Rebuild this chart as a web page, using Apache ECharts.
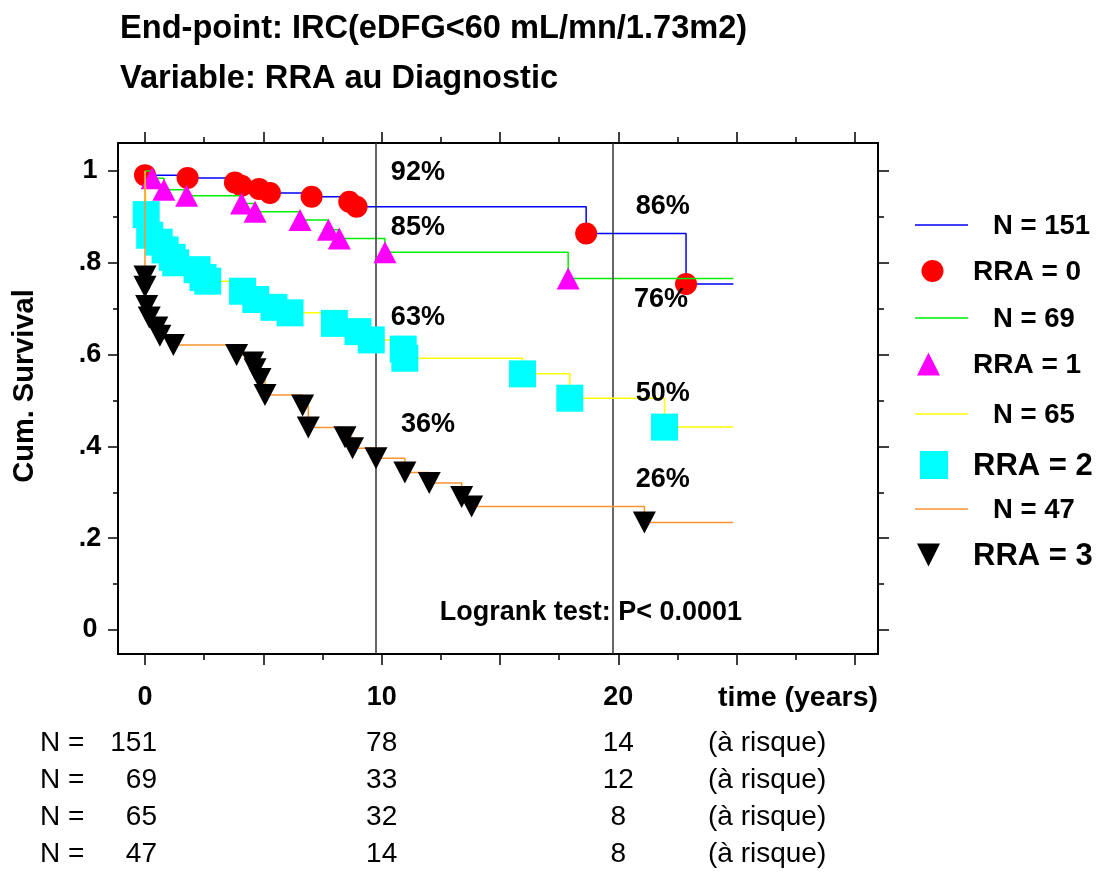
<!DOCTYPE html>
<html><head><meta charset="utf-8">
<script src="https://cdn.jsdelivr.net/npm/echarts@6/dist/echarts.min.js"></script>
<style>html,body{margin:0;padding:0;background:#fff}#c{width:1104px;height:873px}</style>
</head><body><div id="c"></div><script>
// ---- data ----
const timesRRA0 = [0, 1.8, 3.8, 4.08, 4.82, 5.28, 7.04, 8.63, 8.94, 18.64, 22.86];
const survRRA0  = [0.991, 0.985, 0.975, 0.968, 0.961, 0.952, 0.944, 0.933, 0.922, 0.864, 0.754];
const timesRRA1 = [0.3, 0.8, 1.76, 4.08, 4.65, 6.55, 7.75, 8.21, 10.14, 17.88];
const survRRA1  = [0.984, 0.959, 0.946, 0.929, 0.911, 0.893, 0.872, 0.853, 0.823, 0.766];
const timesRRA2 = [0.05, 0.2, 0.6, 0.85, 1.15, 1.3, 2.2, 2.45, 2.65, 4.12, 4.68, 5.45, 6.13, 8.0, 9.0, 9.56, 10.91, 10.98, 15.95, 17.95, 21.95];
const survRRA2  = [0.905, 0.86, 0.845, 0.828, 0.812, 0.8, 0.785, 0.768, 0.76, 0.738, 0.72, 0.703, 0.691, 0.668, 0.65, 0.632, 0.612, 0.592, 0.558, 0.505, 0.442];
const timesRRA3 = [0, 0, 0.07, 0.18, 0.5, 0.63, 1.2, 3.87, 4.55, 4.65, 4.86, 5.07, 6.66, 6.9, 8.45, 8.77, 9.76, 10.98, 12.01, 13.38, 13.8, 21.1];
const survRRA3  = [0.77, 0.748, 0.706, 0.681, 0.659, 0.641, 0.621, 0.599, 0.583, 0.568, 0.547, 0.512, 0.489, 0.441, 0.42, 0.396, 0.374, 0.343, 0.32, 0.29, 0.269, 0.234];
const endTime = 24.86;
const groupNames = ['RRA = 0', 'RRA = 1', 'RRA = 2', 'RRA = 3'];
const groupN = ['N = 151', 'N = 69', 'N = 65', 'N = 47'];
const atRisk0 = [151, 69, 65, 47];
const atRisk10 = [78, 33, 32, 14];
const atRisk20 = [14, 12, 8, 8];
const riskTimes = [0, 10, 20];
const refLines = [9.75, 19.75];
const annoText = ['92%', '85%', '63%', '36%', '86%', '76%', '50%', '26%', 'Logrank test: P< 0.0001'];
const annoX = [11.53, 11.53, 11.53, 11.96, 21.88, 21.8, 21.88, 21.88, 18.84];
const annoY = [0.996, 0.876, 0.68, 0.447, 0.922, 0.719, 0.516, 0.327, 0.039];
const xTickMajor = [0, 5, 10, 15, 20, 25, 30];
const xTickMinor = [2.5, 7.5, 12.5, 17.5, 22.5, 27.5];
const xLabels = [0, 10, 20];
const yTickMajor = [0, 0.2, 0.4, 0.6, 0.8, 1];
const yTickMinor = [0.1, 0.3, 0.5, 0.7, 0.9];
const yLabels = [0, 0.2, 0.4, 0.6, 0.8, 1];

// ---- styles ----
const FF = '"Liberation Sans", Arial, sans-serif';
const lineColors = ['#0000ff', '#00ee00', '#ffff00', '#f7952f'];
const markColors = ['#ff0000', '#ff00ff', '#00ffff', '#000000'];
const markSymbols = ['circle', 'triangle', 'rect', 'triangle'];
const markSizes = [22, [23, 22], 27, [23, 22]];
const markRotate = [0, 0, 0, 180];
const times = [timesRRA0, timesRRA1, timesRRA2, timesRRA3];
const survs = [survRRA0, survRRA1, survRRA2, survRRA3];

const xMin = -1.14, xMax = 30.97, yMin = -0.0523, yMax = 1.061;

function xAxisDef(pos, ticks, len, labels) {
  return {
    type: 'value', position: pos, min: xMin, max: xMax,
    axisLine: { show: false, onZero: false },
    splitLine: { show: false },
    axisTick: { show: true, customValues: ticks, length: len, inside: false, lineStyle: { color: '#000', width: 1.5 } },
    axisLabel: labels ? { show: true, customValues: labels, margin: 44, color: '#000', fontFamily: FF, fontWeight: 'bold', fontSize: 27, verticalAlign: 'middle' } : { show: false }
  };
}
function yAxisDef(pos, ticks, len, labels) {
  return {
    type: 'value', position: pos, min: yMin, max: yMax,
    axisLine: { show: false, onZero: false },
    splitLine: { show: false },
    axisTick: { show: true, customValues: ticks, length: len, inside: false, lineStyle: { color: '#000', width: 1.5 } },
    axisLabel: labels ? { show: true, customValues: labels, margin: 28, align: 'center', verticalAlign: 'middle', color: '#000', fontFamily: FF, fontWeight: 'bold', fontSize: 27,
      formatter: v => (Math.abs(v) < 1e-9 ? '0' : (Math.abs(v - 1) < 1e-9 ? '1' : '.' + Math.round(v * 10))) } : { show: false }
  };
}

const series = [];
for (let g = 0; g < 4; g++) {
  const t = times[g], s = survs[g];
  const lineData = [[0, 1]].concat(t.map((x, i) => [x, s[i]])).concat([[endTime, s[s.length - 1]]]);
  const ls = {
    type: 'line', name: groupN[g], step: 'end', data: lineData, symbol: 'none',
    lineStyle: { color: lineColors[g], width: 1.5 }, itemStyle: { color: lineColors[g] },
    animation: false, silent: true, z: 2 + g * 2
  };
  if (g === 0) {
    ls.markLine = { symbol: 'none', silent: true, label: { show: false },
      lineStyle: { color: '#333', width: 1.5, type: 'solid' },
      data: refLines.map(v => ({ xAxis: v })) };
  }
  series.push(ls);
  series.push({
    type: 'scatter', name: groupNames[g], data: t.map((x, i) => [x, s[i]]),
    symbol: markSymbols[g], symbolSize: markSizes[g], symbolRotate: markRotate[g],
    itemStyle: { color: markColors[g], opacity: 1 }, animation: false, silent: true, z: 3 + g * 2
  });
}
series.push({
  type: 'scatter', name: 'annotations', symbolSize: 1, silent: true, animation: false, z: 20,
  itemStyle: { opacity: 0 },
  data: annoX.map((x, i) => ({ value: [x, annoY[i]], name: annoText[i] })),
  label: { show: true, position: 'inside', formatter: '{b}', color: '#000', opacity: 1, fontFamily: FF, fontWeight: 'bold', fontSize: 27 },
  emphasis: { disabled: true }
});

const chart = echarts.init(document.getElementById('c'), null, { renderer: 'canvas' });
chart.setOption({
  backgroundColor: '#fff',
  animation: false,
  grid: { left: 118, top: 143, right: 1104 - 878, bottom: 873 - 654, show: true, borderColor: '#000', borderWidth: 2, backgroundColor: 'transparent' },
  xAxis: [
    xAxisDef('bottom', xTickMajor, 11, xLabels),
    xAxisDef('bottom', xTickMinor, 6, null),
    xAxisDef('top', xTickMajor, 11, null),
    xAxisDef('top', xTickMinor, 6, null)
  ],
  yAxis: [
    yAxisDef('left', yTickMajor, 10, yLabels),
    yAxisDef('left', yTickMinor, 5, null),
    yAxisDef('right', yTickMajor, 11, null),
    yAxisDef('right', yTickMinor, 6, null)
  ],
  series: series
});

// ---- texts: title, axis name, legend, at-risk table ----
const graphics = [];
function txt(x, y, text, size, opts) {
  opts = opts || {};
  graphics.push({ type: 'text', x: x, y: y, rotation: opts.rot || 0, silent: true, z: 100,
    style: { text: text, fill: '#000', font: (opts.normal ? '' : 'bold ') + size + 'px ' + FF,
      align: opts.align || 'left', verticalAlign: 'middle' } });
}
txt(120, 29, 'End-point: IRC(eDFG<60 mL/mn/1.73m2)', 32.6);
txt(120, 79, 'Variable: RRA au Diagnostic', 32.6);
txt(25, 386, 'Cum. Survival', 29, { rot: Math.PI / 2, align: 'center' });
txt(718, 698, 'time (years)', 28.5);

// legend
const legLineY = [225, 318, 414, 509];
const legSymY = [271, 364, 465, 555];
const legSymX = [932.5, 928.5, 934, 928.5];
const legTextSize = [28, 28, 31, 31];
for (let g = 0; g < 4; g++) {
  graphics.push({ type: 'line', silent: true, z: 100, shape: { x1: 915, y1: legLineY[g], x2: 968, y2: legLineY[g] }, style: { stroke: lineColors[g], lineWidth: 1.5 } });
  txt(993, legLineY[g] + 1, groupN[g], 27.5);
  const cx = legSymX[g], cy = legSymY[g];
  if (g === 0) graphics.push({ type: 'circle', silent: true, z: 100, shape: { cx: cx, cy: cy, r: 11 }, style: { fill: markColors[g] } });
  if (g === 1) graphics.push({ type: 'polygon', silent: true, z: 100, shape: { points: [[cx, cy - 11.5], [cx + 11.5, cy + 11.5], [cx - 11.5, cy + 11.5]] }, style: { fill: markColors[g] } });
  if (g === 2) graphics.push({ type: 'rect', silent: true, z: 100, shape: { x: cx - 14, y: cy - 14, width: 28, height: 28 }, style: { fill: markColors[g] } });
  if (g === 3) graphics.push({ type: 'polygon', silent: true, z: 100, shape: { points: [[cx - 11.5, cy - 11.5], [cx + 11.5, cy - 11.5], [cx, cy + 11.5]] }, style: { fill: markColors[g] } });
  txt(973, cy + 1, groupNames[g], legTextSize[g]);
}

// at-risk table
const rowY = [743, 780, 817, 854];
const col10 = chart.convertToPixel({ xAxisIndex: 0 }, riskTimes[1]);
const col20 = chart.convertToPixel({ xAxisIndex: 0 }, riskTimes[2]);
const col0 = chart.convertToPixel({ xAxisIndex: 0 }, riskTimes[0]);
for (let r = 0; r < 4; r++) {
  txt(40, rowY[r], 'N =', 28, { normal: true });
  txt(col0 + 12, rowY[r], String(atRisk0[r]), 28, { normal: true, align: 'right' });
  txt(col10, rowY[r], String(atRisk10[r]), 28, { normal: true, align: 'center' });
  txt(col20, rowY[r], String(atRisk20[r]), 28, { normal: true, align: 'center' });
  txt(708, rowY[r], '(à risque)', 28, { normal: true });
}
chart.setOption({ graphic: graphics });
</script></body></html>
